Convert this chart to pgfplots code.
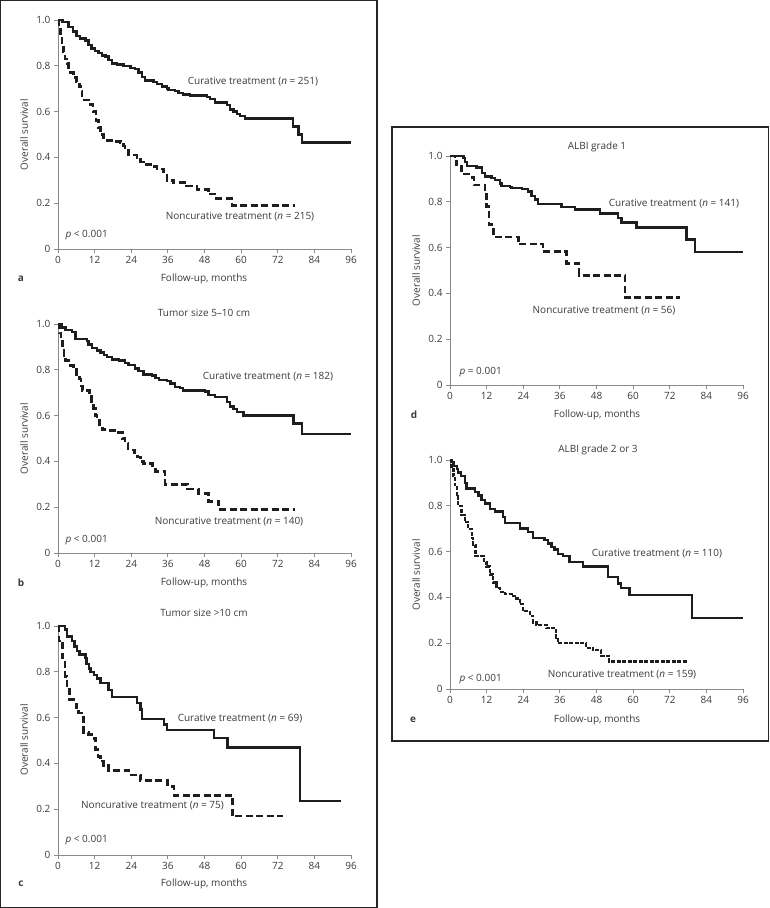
\documentclass[border=0pt]{standalone}
\usepackage{pgfplots}
\pgfplotsset{compat=1.18}
\usepackage{fontspec}
\setmainfont{Open Sans}
\definecolor{txt}{HTML}{3A3A3A}
\definecolor{axg}{HTML}{8A8A8A}
\definecolor{crv}{HTML}{1E1E1E}
\pgfplotsset{
  kmaxis/.style={
    scale only axis, width=293pt, height=229pt,
    xmin=0, xmax=96, ymin=0, ymax=1, enlargelimits=false,
    axis lines*=left, axis line style={axg, line width=0.9pt},
    xtick={0,12,...,96}, ytick={0,0.2,0.4,0.6,0.8,1},
    yticklabels={0,0.2,0.4,0.6,0.8,1.0},
    tick align=outside, major tick length=4pt,
    tick style={axg, line width=0.9pt},
    /pgf/number format/assume math mode=true,
    ticklabel style={font=\fontsize{10}{12}\selectfont, text=txt},
    anchor=origin, clip=false,
  },
  cur/.style={const plot, no marks, crv, line width=2.4pt},
  non/.style={const plot, no marks, crv, line width=2.6pt, dash pattern=on 7pt off 3.5pt},
}
\begin{document}
\begin{tikzpicture}[font=\fontsize{10}{12}\selectfont, every node/.style={text=txt}]
\path[use as bounding box] (0pt,0pt) rectangle (770pt,908pt);
\draw[line width=1.2pt, black!85] (0.6pt,0.6pt) rectangle (377pt,907.4pt);
\draw[line width=1.2pt, black!85] (392pt,167pt) rectangle (768.5pt,781pt);

% ---------------- a
\begin{axis}[kmaxis, at={(58pt,659pt)}]
\addplot[cur] coordinates {(0,1)(1.5,0.99)(3.5,0.97)(5,0.95)(6,0.93)(7.3,0.92)(9,0.91)(10,0.89)(11,0.875)(12.2,0.865)(13.3,0.855)(14.4,0.845)(15.5,0.84)(16.6,0.825)(17.7,0.81)(19.3,0.805)(21.5,0.80)(23.7,0.79)(25.3,0.785)(26.4,0.77)(27.5,0.75)(28.6,0.735)(31.3,0.73)(32.4,0.72)(34,0.71)(35.7,0.70)(36.2,0.695)(38.4,0.69)(39.5,0.68)(41,0.675)(43.3,0.67)(48.8,0.665)(49.9,0.655)(51.5,0.64)(55.4,0.63)(56.4,0.61)(57.5,0.60)(58.6,0.59)(59.7,0.58)(61.3,0.57)(76.9,0.535)(78.8,0.50)(79.9,0.465)(96,0.465)};
\addplot[non] coordinates {(0,1)(0.3,0.97)(0.8,0.94)(1.3,0.9)(1.8,0.86)(2.3,0.83)(3,0.81)(3.5,0.79)(4,0.77)(5,0.75)(6,0.73)(7,0.71)(7.5,0.69)(7.9,0.65)(10.6,0.63)(11.5,0.60)(12.5,0.56)(13.2,0.53)(13.9,0.50)(15,0.485)(16,0.475)(18.2,0.47)(20.4,0.465)(21.5,0.45)(22,0.43)(23.1,0.41)(25.9,0.40)(27,0.38)(28,0.37)(30.8,0.36)(32.4,0.35)(34.6,0.33)(35.7,0.30)(37.9,0.29)(42.2,0.275)(45.5,0.26)(49.3,0.24)(52,0.22)(57,0.19)(77.7,0.19)};
\end{axis}
\node at (253pt,826pt) {Curative treatment (\textit{n} = 251)};
\node at (240pt,691pt) {Noncurative treatment (\textit{n} = 215)};
\node[anchor=west] at (62pt,673pt) {\textit{p} < 0.001};
\node at (204pt,629pt) {Follow-up, months};
\node at (21pt,629pt) {\textbf{a}};
\node[rotate=90] at (24pt,773.5pt) {Overall survival};

% ---------------- b
\begin{axis}[kmaxis, at={(58pt,355pt)}]
\addplot[cur] coordinates {(0,1)(1.3,0.985)(2.4,0.975)(4.6,0.965)(5.7,0.935)(9.5,0.925)(10,0.91)(11.1,0.895)(12.8,0.885)(13.9,0.875)(15,0.865)(16,0.855)(17.7,0.845)(19.9,0.84)(22,0.83)(23.1,0.82)(25.3,0.805)(26.4,0.795)(28,0.78)(30.8,0.775)(31.9,0.765)(33,0.755)(35.7,0.75)(36.8,0.74)(38.4,0.725)(40,0.72)(41,0.71)(48.2,0.705)(49.3,0.69)(51.5,0.68)(55.3,0.66)(56.4,0.64)(57.5,0.63)(58.6,0.615)(60.8,0.60)(77.1,0.565)(79.9,0.52)(96,0.52)};
\addplot[non] coordinates {(0,1)(0.5,0.96)(1,0.93)(1.5,0.89)(2,0.86)(2.5,0.84)(3.5,0.82)(5,0.80)(6,0.78)(7,0.76)(7.5,0.73)(8,0.71)(10.3,0.69)(11,0.66)(11.6,0.63)(12.2,0.60)(12.8,0.58)(13.5,0.56)(14.5,0.538)(16.5,0.535)(18.5,0.526)(21.2,0.50)(22,0.48)(23,0.45)(25,0.44)(26,0.42)(27,0.40)(28,0.39)(31,0.38)(32,0.356)(35.1,0.30)(42.5,0.28)(46,0.26)(49.3,0.225)(52.6,0.19)(77.7,0.19)};
\end{axis}
\node at (204pt,595pt) {Tumor size 5–10 cm};
\node at (268pt,531pt) {Curative treatment (\textit{n} = 182)};
\node at (229pt,386pt) {Noncurative treatment (\textit{n} = 140)};
\node[anchor=west] at (62pt,368pt) {\textit{p} < 0.001};
\node at (204pt,325pt) {Follow-up, months};
\node at (21pt,325pt) {\textbf{b}};
\node[rotate=90] at (24pt,469.5pt) {Overall survival};

% ---------------- c
\begin{axis}[kmaxis, at={(58pt,53pt)}]
\addplot[cur] coordinates {(0,1)(2.2,0.985)(3,0.955)(4.6,0.935)(5.4,0.91)(6.2,0.89)(7,0.875)(9,0.86)(9.3,0.835)(10.1,0.815)(10.6,0.80)(11.7,0.785)(12.8,0.77)(13.9,0.75)(16.6,0.72)(17.7,0.69)(25.9,0.665)(27,0.635)(27.6,0.595)(34.7,0.57)(35.8,0.545)(51.1,0.51)(55.5,0.47)(79.3,0.235)(92.7,0.235)};
\addplot[non] coordinates {(0,1)(0.3,0.935)(1.5,0.86)(2.3,0.78)(2.9,0.73)(3.8,0.68)(5.1,0.66)(6,0.645)(6.8,0.62)(7.9,0.61)(8.4,0.535)(10,0.525)(11.2,0.51)(12.3,0.46)(13.1,0.43)(13.9,0.41)(15,0.39)(16.6,0.37)(23.2,0.35)(27,0.325)(35.8,0.30)(38,0.26)(57.1,0.17)(73.6,0.17)};
\end{axis}
\node at (204pt,295pt) {Tumor size >10 cm};
\node at (240pt,189pt) {Curative treatment (\textit{n} = 69)};
\node at (152.5pt,102pt) {Noncurative treatment (\textit{n} = 75)};
\node[anchor=west] at (62pt,68pt) {\textit{p} < 0.001};
\node at (204pt,24pt) {Follow-up, months};
\node at (21pt,24pt) {\textbf{c}};
\node[rotate=90] at (24pt,168pt) {Overall survival};

% ---------------- d
\begin{axis}[kmaxis, at={(450pt,523pt)}]
\addplot[cur] coordinates {(0,1)(4.4,0.99)(4.9,0.975)(5.5,0.955)(8.7,0.95)(10.4,0.925)(11.5,0.91)(13.6,0.905)(14.7,0.895)(16.4,0.88)(16.9,0.87)(19.6,0.865)(20.2,0.86)(23.5,0.855)(25.6,0.845)(26.7,0.825)(27.8,0.81)(28.9,0.79)(36.5,0.778)(40.9,0.767)(49.1,0.749)(55.1,0.73)(56.2,0.71)(61.1,0.688)(77.5,0.636)(80.2,0.582)(96,0.582)};
\addplot[non] coordinates {(0,1)(1.6,0.985)(2.2,0.96)(3.8,0.921)(7.3,0.906)(7.8,0.873)(11.5,0.84)(12,0.78)(12.8,0.70)(13.6,0.685)(14.2,0.646)(22.4,0.615)(30.5,0.582)(38.2,0.531)(42.3,0.479)(57.3,0.383)(75.3,0.383)};
\end{axis}
\node at (597pt,761pt) {ALBI grade 1};
\node at (674pt,704pt) {Curative treatment (\textit{n} = 141)};
\node at (604pt,597pt) {Noncurative treatment (\textit{n} = 56)};
\node[anchor=west] at (456pt,536pt) {\textit{p} = 0.001};
\node at (597pt,493pt) {Follow-up, months};
\node at (414pt,493pt) {\textbf{d}};
\node[rotate=90] at (416pt,637.5pt) {Overall survival};

% ---------------- e
\begin{axis}[kmaxis, at={(450pt,219pt)}]
\addplot[cur] coordinates {(0,1)(0.5,0.99)(1.1,0.975)(2.2,0.96)(2.7,0.945)(3.6,0.93)(4.9,0.90)(5.4,0.875)(8.2,0.86)(9.3,0.845)(10.3,0.825)(11.4,0.81)(13.1,0.785)(14.7,0.775)(17.4,0.75)(18,0.725)(22.9,0.70)(25.6,0.685)(27.2,0.66)(31,0.65)(32.1,0.635)(33.2,0.62)(34.3,0.61)(35.4,0.59)(37,0.58)(39.2,0.555)(43.5,0.535)(51.7,0.49)(55,0.46)(56.1,0.44)(58.8,0.41)(79.2,0.31)(96,0.31)};
\addplot[non, dash pattern=on 4pt off 1.5pt, line width=2.3pt] coordinates {(0,1)(0.5,0.96)(1.1,0.93)(1.6,0.89)(2.2,0.84)(2.7,0.80)(3.8,0.76)(4.9,0.73)(6,0.70)(7.1,0.66)(7.6,0.63)(8.4,0.58)(11.2,0.555)(12,0.535)(13.1,0.50)(14.1,0.465)(15.2,0.44)(16.3,0.425)(18,0.415)(20.7,0.405)(21.8,0.395)(22.9,0.37)(24,0.34)(26.1,0.32)(27.2,0.29)(28.3,0.28)(31.6,0.265)(34.8,0.225)(35.4,0.20)(44.6,0.18)(46.8,0.17)(49.5,0.145)(52.2,0.12)(77.8,0.12)};
\end{axis}
\node at (598pt,458pt) {ALBI grade 2 or 3};
\node at (657pt,354pt) {Curative treatment (\textit{n} = 110)};
\node at (622pt,233pt) {Noncurative treatment (\textit{n} = 159)};
\node[anchor=west] at (456pt,229pt) {\textit{p} < 0.001};
\node at (597pt,188pt) {Follow-up, months};
\node at (413pt,188pt) {\textbf{e}};
\node[rotate=90] at (416pt,333pt) {Overall survival};
\end{tikzpicture}
\end{document}
